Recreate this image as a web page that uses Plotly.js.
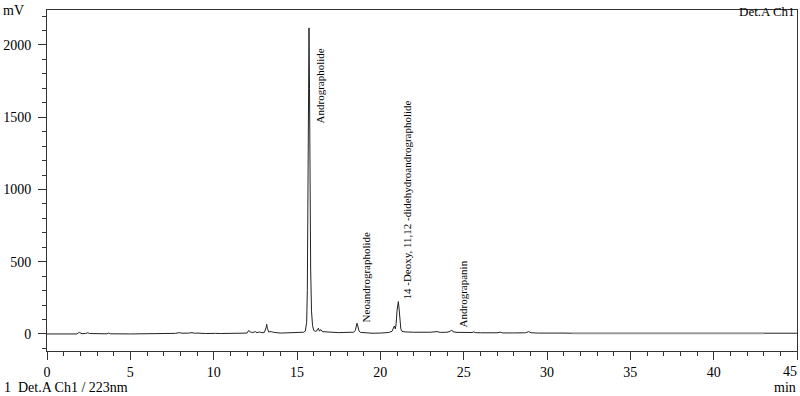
<!DOCTYPE html>
<html>
<head>
<meta charset="utf-8">
<script src="https://cdn.plot.ly/plotly-3.0.1.min.js"></script>
<style>html,body{margin:0;padding:0;background:#fff;}#chart{width:800px;height:396px;}</style>
</head>
<body>
<div id="chart"></div>
<script>
// Retention time (min) and detector signal (mV)
const timeMin = [0,1.8,1.9,1.95,2.0,2.1,2.3,2.45,2.55,2.8,3.0,3.2,3.6,3.7,3.8,5.0,6.3,6.5,6.6,6.8,7.4,7.7,7.95,8.1,8.5,8.7,8.85,9.0,9.5,9.9,10.1,10.4,11.5,12.0,12.1,12.2,12.35,12.5,12.6,12.75,12.9,13.05,13.15,13.18,13.22,13.3,13.45,13.6,14.0,14.5,15.0,15.4,15.5,15.58,15.62,15.66,15.69,15.72,15.75,15.78,15.82,15.87,15.93,16.0,16.1,16.2,16.28,16.35,16.44,16.52,16.7,17.0,17.5,18.0,18.4,18.5,18.56,18.6,18.65,18.72,18.8,19.0,19.5,20.0,20.5,20.7,20.8,20.84,20.9,20.95,21.0,21.05,21.08,21.12,21.17,21.23,21.3,21.5,22.0,22.5,23.0,23.4,23.6,24.0,24.2,24.28,24.36,24.6,25.0,25.5,25.6,25.7,26.0,26.5,27.0,27.2,27.35,28.0,28.7,28.9,29.05,29.5,30.0,30.7,30.8,30.9,31.5];
const signalMV = [0,0,8,14,6,2,3,8,3,2,4,1,1,6,1,0,0,5,3,1,2,4,9,5,6,9,5,6,3,7,4,3,4,6,24,14,10,16,9,14,8,12,45,67,40,14,16,11,6,7,8,12,20,80,300,900,1600,2118,1700,1000,450,160,60,25,18,22,40,20,30,16,14,10,9,11,12,25,60,74,55,20,11,9,5,6,10,18,45,55,35,70,160,215,224,180,90,35,18,14,12,11,12,16,11,12,18,28,15,11,9,10,14,9,8,7,8,12,7,7,8,16,8,6,6,7,11,6,5];
const tailTime = [31.5, 43];
const tailMV = [5, 5];
const endTime = [43, 45];
const endMV = [5, 5];

// Peak names and where their labels sit
const peakNames = ["Andrographolide", "Neoandrographolide", "14 -Deoxy, 11,12 -didehydroandrographolide", "Andrograpanin"];
const labelTime = [16.38, 19.14, 21.63, 24.93];
const labelMV = [1713, 391, 927, 277];

const xTicks = [0,5,10,15,20,25,30,35,40,45];
const yTicks = [0,500,1000,1500,2000];

const font = "Liberation Serif, Times New Roman, serif";

const traces = [
  {x: timeMin, y: signalMV, type: 'scatter', mode: 'lines', line: {color: '#222', width: 1}, hoverinfo: 'skip'},
  {x: tailTime, y: tailMV, type: 'scatter', mode: 'lines', line: {color: '#9a9a9a', width: 2}, hoverinfo: 'skip'},
  {x: endTime, y: endMV, type: 'scatter', mode: 'lines', line: {color: '#222', width: 1}, hoverinfo: 'skip'}
];

const annotations = peakNames.map((name, i) => ({
  x: labelTime[i], y: labelMV[i], xref: 'x', yref: 'y',
  text: name, showarrow: false, textangle: -90,
  xanchor: 'center', yanchor: 'middle',
  font: {family: font, size: 11, color: '#000'}
}));
const lastTick = xTicks[xTicks.length - 1];
annotations.push(
  {x: 797, y: 12, xref: 'paper', yref: 'paper', text: 'Det.A Ch1', showarrow: false, xanchor: 'right', yanchor: 'middle', font: {family: font, size: 13, color: '#000'}},
  {x: 1, y: 10, xref: 'paper', yref: 'paper', text: 'mV', showarrow: false, xanchor: 'left', yanchor: 'middle', font: {family: font, size: 14, color: '#000'}},
  {x: 2, y: 388, xref: 'paper', yref: 'paper', text: '1  Det.A Ch1 / 223nm', showarrow: false, xanchor: 'left', yanchor: 'middle', font: {family: font, size: 14, color: '#000'}},
  {x: 798, y: 388, xref: 'paper', yref: 'paper', text: 'min', showarrow: false, xanchor: 'right', yanchor: 'middle', font: {family: font, size: 14, color: '#000'}},
  {x: 799, y: 371, xref: 'paper', yref: 'paper', text: String(lastTick), showarrow: false, xanchor: 'right', yanchor: 'middle', font: {family: font, size: 14, color: '#000'}}
);
// convert pixel-placed paper annotations into paper fractions
const W = 800, H = 396, L = 47, R = 3, T = 10, B = 45;
annotations.forEach(a => {
  if (a.xref === 'paper') {
    a.x = (a.x - L) / (W - L - R);
    a.y = 1 - (a.y - T) / (H - T - B);
  }
});

const layout = {
  width: W, height: H,
  margin: {l: L, r: R, t: T, b: B, pad: 0},
  paper_bgcolor: '#fff', plot_bgcolor: '#fff',
  showlegend: false,
  font: {family: font, size: 14, color: '#000'},
  xaxis: {
    range: [0, 45], tickvals: xTicks, ticktext: xTicks.map(v => v === lastTick ? '' : String(v)),
    showgrid: false, zeroline: false, showline: true, mirror: true,
    linecolor: '#333', linewidth: 1, ticks: 'outside', ticklen: 8, tickcolor: '#333',
    tickfont: {family: font, size: 14, color: '#000'},
    minor: {dtick: 1, tick0: 0, ticks: 'outside', ticklen: 4, tickcolor: '#333', showgrid: false}
  },
  yaxis: {
    range: [-118, 2242], tickvals: yTicks, ticktext: yTicks.map(String),
    showgrid: false, zeroline: false, showline: true, mirror: true,
    linecolor: '#333', linewidth: 1, ticks: 'outside', ticklen: 8, tickcolor: '#333',
    ticklabelstandoff: 4,
    tickfont: {family: font, size: 14, color: '#000'},
    minor: {dtick: 100, tick0: 0, ticks: 'outside', ticklen: 4, tickcolor: '#333', showgrid: false}
  },
  annotations: annotations
};

Plotly.newPlot('chart', traces, layout, {staticPlot: true, displayModeBar: false});
</script>
</body>
</html>
